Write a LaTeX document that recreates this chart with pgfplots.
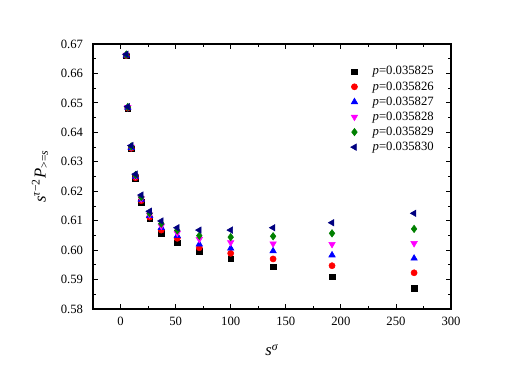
\documentclass[border=0pt]{standalone}
\usepackage{fontspec}
\setmainfont{Liberation Serif}
\usepackage{pgfplots}
\usepackage{pgfplotstable}
\pgfplotsset{compat=1.18}
\definecolor{navyb}{RGB}{0,0,128}
\definecolor{darkgr}{RGB}{0,128,0}
\definecolor{magen}{RGB}{255,0,255}

% s^sigma and s^(tau-2) P_{>=s} for six values of p
\pgfplotstableread{
x      pa     pb     pc     pd     pe     pf
5.2    0.6660 0.6661 0.6662 0.6663 0.6664 0.6665
6.6    0.6482 0.6483 0.6484 0.6485 0.6486 0.6487
9.7    0.6344 0.6346 0.6348 0.6350 0.6352 0.6355
13.6   0.6243 0.6246 0.6250 0.6252 0.6255 0.6258
18.8   0.6163 0.6168 0.6172 0.6175 0.6180 0.6187
26.4   0.6106 0.6112 0.6117 0.6120 0.6125 0.6132
37.0   0.6058 0.6068 0.6076 0.6082 0.6090 0.6099
51.5   0.6025 0.6040 0.6049 0.6058 0.6067 0.6076
71.5   0.5997 0.6008 0.6020 0.6037 0.6049 0.6068
100.0  0.5970 0.5989 0.6006 0.6026 0.6044 0.6068
138.5  0.5944 0.5970 0.5997 0.6022 0.6047 0.6076
192.0  0.5910 0.5947 0.5983 0.6020 0.6057 0.6093
266.5  0.5870 0.5923 0.5972 0.6023 0.6072 0.6125
}\datatable

\begin{document}
\begin{tikzpicture}
\begin{axis}[
  at={(0,0)}, anchor=south west,
  scale only axis, width=268.5pt, height=198.75pt,
  xmin=-25, xmax=300, ymin=0.58, ymax=0.67,
  xtick={0,50,...,300},
  ytick={0.58,0.59,0.60,0.61,0.62,0.63,0.64,0.65,0.66,0.67},
  minor x tick num=1, minor y tick num=1,
  tick align=inside,
  major tick length=4pt, minor tick length=2pt,
  tick style={black, line width=0.6pt},
  axis line style={line width=0.8pt},
  /pgf/number format/assume math mode=true,
  tick label style={font=\fontsize{9.5}{11}\selectfont},
  yticklabel style={/pgf/number format/fixed, /pgf/number format/fixed zerofill,
    /pgf/number format/precision=2, xshift=-4pt},
  xticklabel style={yshift=-2.5pt},
  scaled y ticks=false,
  xlabel={\textit{s}\textsuperscript{\textit{σ}}},
  ylabel={\textit{s}\textsuperscript{\textit{τ}−2}\textit{P}\textsubscript{>=\textit{s}}},
  label style={font=\fontsize{12.5}{14}\selectfont},
  xlabel style={at={(axis description cs:0.5,-0.155)}, anchor=center},
  ylabel style={at={(axis description cs:-0.148,0.5)}, anchor=center},
  legend style={at={(0.708,0.935)}, anchor=north west, draw=none, fill=none,
    font=\fontsize{9.5}{11}\selectfont, nodes={inner sep=1.75pt}, column sep=9.5pt},
  legend cell align=left,
]
\addplot[only marks, mark=square*, mark size=2.1pt, color=black] table[x=x, y=pa] {\datatable};
\addplot[only marks, mark=*, mark size=2.3pt, color=red] table[x=x, y=pb] {\datatable};
\addplot[only marks, mark=triangle*, mark size=2.8pt, color=blue] table[x=x, y=pc] {\datatable};
\addplot[only marks, mark=triangle*, mark size=2.8pt, color=magen, mark options={rotate=180}] table[x=x, y=pd] {\datatable};
\addplot[only marks, mark=diamond*, mark size=2.8pt, color=darkgr] table[x=x, y=pe] {\datatable};
\addplot[only marks, mark=triangle*, mark size=2.8pt, color=navyb, mark options={rotate=90}] table[x=x, y=pf] {\datatable};
\legend{\textit{p}=0.035825, \textit{p}=0.035826, \textit{p}=0.035827,
  \textit{p}=0.035828, \textit{p}=0.035829, \textit{p}=0.035830}
\end{axis}
\pgfresetboundingbox
\path[use as bounding box] (-69.75pt,-47.25pt) rectangle (324.75pt,231.75pt);
\end{tikzpicture}
\end{document}
